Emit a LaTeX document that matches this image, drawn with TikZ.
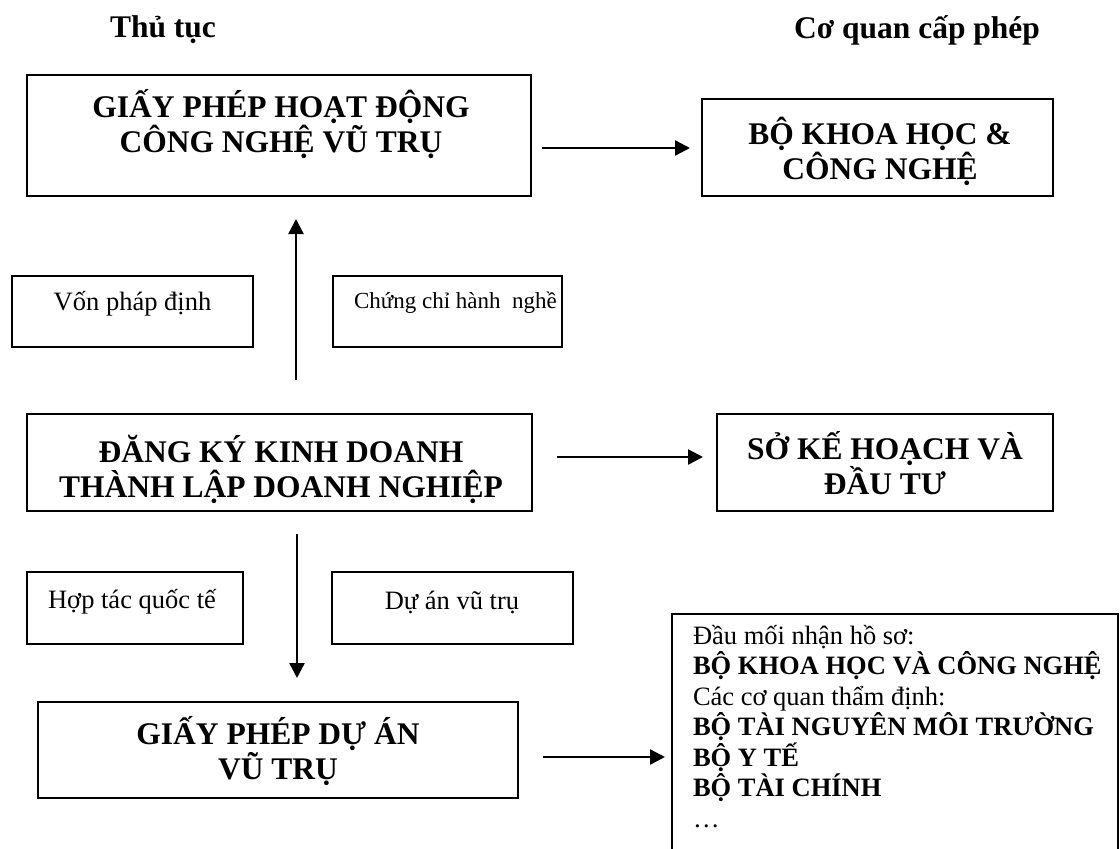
\documentclass[tikz,border=0pt]{standalone}
\usepackage{fontspec}
\setmainfont{Liberation Serif}
\usetikzlibrary{arrows.meta}
\begin{document}
\begin{tikzpicture}[y=1pt, x=1pt, yscale=-1, inner sep=0pt, outer sep=0pt,
  box/.style={draw=black, line width=1.8pt, rectangle},
  headtxt/.style={font=\fontsize{31.5}{35}\selectfont\bfseries, align=center},
  bigtxt/.style={font=\fontsize{31.5}{35}\selectfont\bfseries, align=center},
  smalltxt/.style={font=\fontsize{26.5}{30.5}\selectfont},
  listtxt/.style={font=\fontsize{26.5}{30.5}\selectfont, align=left},
  arr/.style={line width=2.4pt, -{Triangle[length=15pt,width=15pt]}}]
\useasboundingbox (0,0) rectangle (1120,849);
\clip (0,0) rectangle (1120,849);
% column titles
\node[headtxt] (thutuc) at (163,30) {Thủ tục};
\node[headtxt] (coquan) at (917,30) {Cơ quan cấp phép};
% procedures
\node[box, minimum width=504, minimum height=121] (hoatdong) at (279,135.5) {};
\node[bigtxt] (hoatdongtxt) at (281,124) {GIẤY PHÉP HOẠT ĐỘNG\\CÔNG NGHỆ VŨ TRỤ};
\node[box, minimum width=505, minimum height=97] (dangky) at (279.5,462.5) {};
\node[bigtxt] (dangkytxt) at (281,469) {ĐĂNG KÝ KINH DOANH\\THÀNH LẬP DOANH NGHIỆP};
\node[box, minimum width=480, minimum height=96] (duan) at (278,750) {};
\node[bigtxt] (duantxt) at (278,751.5) {GIẤY PHÉP DỰ ÁN\\VŨ TRỤ};
% conditions
\node[box, minimum width=241, minimum height=71] (von) at (132.5,311.5) {};
\node[smalltxt] (vontxt) at (132.5,304) {Vốn pháp định};
\node[box, minimum width=229, minimum height=71] (chungchi) at (447.5,311.5) {};
\node[smalltxt, font=\fontsize{23}{27}\selectfont, anchor=west] (chungchitxt) at (354,303) {Chứng chỉ hành~~nghề};
\node[box, minimum width=216, minimum height=72] (hoptac) at (135,608) {};
\node[smalltxt] (hoptactxt) at (132,602) {Hợp tác quốc tế};
\node[box, minimum width=241, minimum height=72] (duanvt) at (452.5,608) {};
\node[smalltxt] (duanvttxt) at (452,602) {Dự án vũ trụ};
% licensing bodies
\node[box, minimum width=351, minimum height=97] (khoahoc) at (877.5,147.5) {};
\node[bigtxt] (khoahoctxt) at (880,151) {BỘ KHOA HỌC \&\\CÔNG NGHỆ};
\node[box, minimum width=336, minimum height=97] (sokh) at (885,462.5) {};
\node[bigtxt] (sokhtxt) at (885,463.5) {SỞ KẾ HOẠCH VÀ\\ĐẦU TƯ};
\node[box, minimum width=446, minimum height=260, anchor=north west] (daumoi) at (672,614) {};
\node[listtxt, anchor=north west] (daumoitxt) at (693,625) {Đầu mối nhận hồ sơ:\\\textbf{BỘ KHOA HỌC VÀ CÔNG NGHỆ}\\Các cơ quan thẩm định:\\\textbf{BỘ TÀI NGUYÊN MÔI TRƯỜNG}\\\textbf{BỘ Y TẾ}\\\textbf{BỘ TÀI CHÍNH}\\…};
% arrows
\coordinate (a1s) at (542,148);
\coordinate (a1e) at (690,148);
\coordinate (a2s) at (557,457);
\coordinate (a2e) at (703,457);
\coordinate (a3s) at (543,757);
\coordinate (a3e) at (665,757);
\coordinate (ups) at (296,380);
\coordinate (upe) at (296,219);
\coordinate (dns) at (297,534);
\coordinate (dne) at (297,678);
\draw[arr] (a1s) -- (a1e);
\draw[arr] (a2s) -- (a2e);
\draw[arr] (a3s) -- (a3e);
\draw[arr] (ups) -- (upe);
\draw[arr] (dns) -- (dne);
\end{tikzpicture}
\end{document}
